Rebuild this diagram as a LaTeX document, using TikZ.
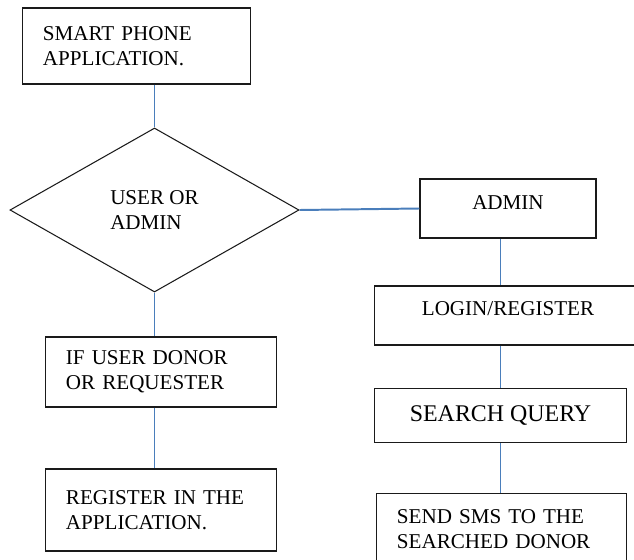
\documentclass[tikz,border=0pt]{standalone}
\usepackage{fontspec}
\setmainfont{Liberation Serif}
\usetikzlibrary{shapes.geometric,positioning,calc}
\definecolor{LinkCol}{HTML}{4A7EBB}
\definecolor{BoxCol}{HTML}{1A1A1A}
\tikzset{
  flow box/.style={
    shape = rectangle,
    draw = BoxCol,
    line width = .75pt,
    font = \fontsize{15}{17.8}\selectfont,
    },
  text box/.style ={
    flow box,
    align = left,
    inner xsep = .5cm,
    text width = #1,
    },
  line box/.style ={
    flow box,
    inner ysep = 0pt,
    },
  decision/.style ={
    diamond,
    draw = BoxCol,
    line width = .75pt,
    inner sep = 0pt,
    align = left,
    minimum width = 7.225cm,
    minimum height = 4.1cm,
    font = \fontsize{15}{17.8}\selectfont,
  },
}
\tikzstyle{Link} = [LinkCol,line width=1.4pt]

\begin{document}
\begin{tikzpicture}[x=0.025cm,y=-0.025cm]
    \useasboundingbox (0,0) rectangle (634,560);

    % User side

    \node[text box=4.675cm,minimum height=1.9cm] (app) at (136.5,46)
        {SMART PHONE\\APPLICATION.};
    \node[decision] (usr) at (154.5,210) {USER OR\\ADMIN};
    \node[text box=4.75cm,minimum height=1.75cm] (donor) at (161,372)
        {IF USER DONOR\\OR REQUESTER};
    \node[text box=4.75cm,minimum height=2.05cm] (reg) at (161,510)
        {REGISTER IN THE\\APPLICATION.};

    % Admin side

    \node[line box,minimum width=4.4cm,text height=.75cm,text depth=.725cm]
        (admin) at (508,208.5) {ADMIN};
    \node[line box,minimum width=6.65cm,text height=.725cm,text depth=.75cm]
        (login) at (508,315.5) {LOGIN/REGISTER};
    \node[line box,minimum width=6.275cm,text height=.84cm,text depth=.53cm,
        font=\fontsize{17}{20}\selectfont] (search) at (500.5,415.5) {SEARCH QUERY};
    \node[text box=5.225cm,anchor=north,inner ysep=.4cm] (sms) at (501.5,493)
        {SEND SMS TO THE\\SEARCHED DONOR};

    % Links

    \draw[Link] (usr.north |- app.south) -- (usr.north);
    \draw[Link] (usr.east) -- (admin.west);
    \draw[Link] (usr.south) -- (usr.south |- donor.north);
    \draw[Link] (usr.south |- donor.south) -- (usr.south |- reg.north);

    \draw[Link] (search.north |- admin.south) -- (search.north |- login.north);
    \draw[Link] (search.north |- login.south) -- (search.north);
    \draw[Link] (search.south) -- (search.south |- sms.north);

\end{tikzpicture}
\end{document}
